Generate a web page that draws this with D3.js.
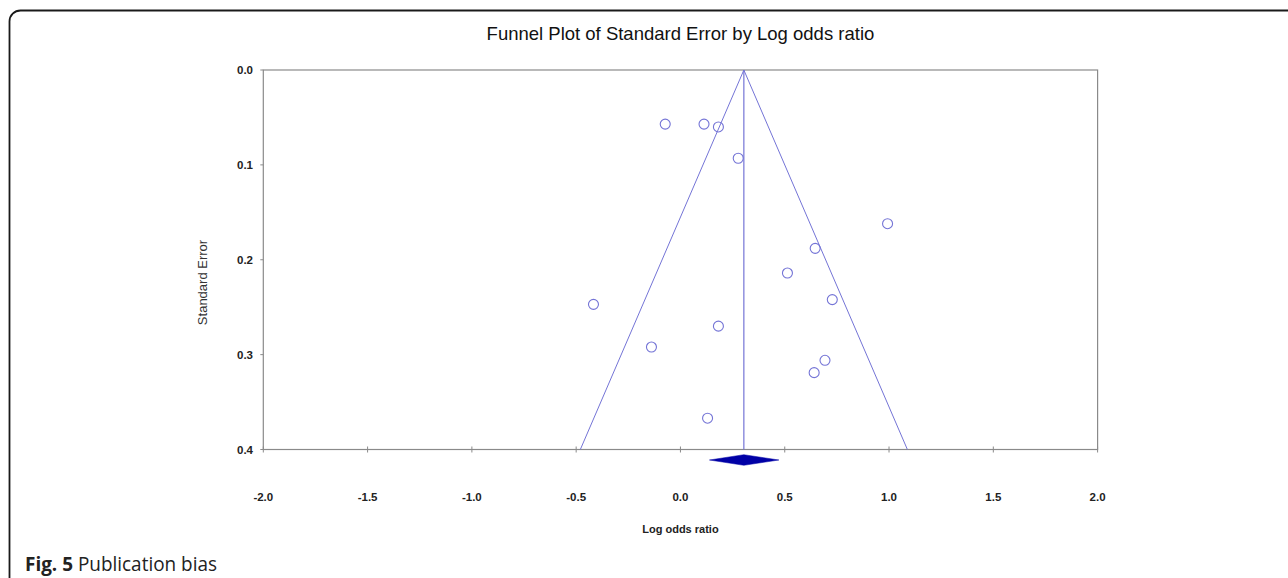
<!DOCTYPE html>
<html>
<head>
<meta charset="utf-8">
<script src="https://cdn.jsdelivr.net/npm/d3@7"></script>
<style>
  html, body { margin: 0; padding: 0; background: #fff; }
  svg { display: block; }
</style>
</head>
<body>
<svg id="chart" width="1288" height="578"></svg>
<script>
// ---- Data ----
const logOddsRatio = [-0.073, 0.113, 0.182, 0.277, 0.993, 0.646, 0.513, 0.728, -0.417, 0.182, -0.139, 0.693, 0.641, 0.130];
const standardError = [0.057, 0.057, 0.060, 0.093, 0.162, 0.188, 0.214, 0.242, 0.247, 0.270, 0.292, 0.306, 0.319, 0.367];
const summaryEstimate = [0.304];          // pooled log odds ratio
const summaryCI = [0.139, 0.472];         // lower, upper
const xTickValues = [-2.0, -1.5, -1.0, -0.5, 0.0, 0.5, 1.0, 1.5, 2.0];
const yTickValues = [0.0, 0.1, 0.2, 0.3, 0.4];
const titleText = "Funnel Plot of Standard Error by Log odds ratio";
const xLabel = "Log odds ratio";
const yLabel = "Standard Error";

(function () {
// ---- Layout ----
const svg = d3.select("#chart");
const pLeft = 263.3, pRight = 1097.6, pTop = 70, pBottom = 449.5;
const x = d3.scaleLinear().domain([-2, 2]).range([pLeft, pRight]);
const y = d3.scaleLinear().domain([0, 0.4]).range([pTop, pBottom]);
const blue = "#7474d6";
const axisGray = "#8a8a8a";
const fontSans = "'Liberation Sans', Arial, sans-serif";
const fmt = d => d.toFixed(1);

// outer rounded frame
svg.append("rect")
  .attr("x", 9.5).attr("y", 10.5)
  .attr("width", 1320).attr("height", 580)
  .attr("rx", 11).attr("ry", 11)
  .attr("fill", "none").attr("stroke", "#1a1a1a").attr("stroke-width", 1.8);

// title
svg.append("text")
  .attr("x", (pLeft + pRight) / 2).attr("y", 39.5)
  .attr("text-anchor", "middle")
  .attr("font-family", fontSans).attr("font-size", 18.5)
  .attr("fill", "#111")
  .text(titleText);

// plot box
svg.append("rect")
  .attr("x", pLeft).attr("y", pTop)
  .attr("width", pRight - pLeft).attr("height", pBottom - pTop)
  .attr("fill", "none").attr("stroke", axisGray).attr("stroke-width", 1.2);

// x axis ticks (crossing the bottom line)
svg.append("g").selectAll("line").data(xTickValues).join("line")
  .attr("x1", d => x(d)).attr("x2", d => x(d))
  .attr("y1", pBottom - 3).attr("y2", pBottom + 3)
  .attr("stroke", axisGray).attr("stroke-width", 1);

// x tick labels
svg.append("g").selectAll("text").data(xTickValues).join("text")
  .attr("x", d => x(d)).attr("y", 501)
  .attr("text-anchor", "middle")
  .attr("font-family", fontSans).attr("font-size", 11.5).attr("font-weight", "bold")
  .attr("fill", "#222")
  .text(fmt);

// y axis ticks
svg.append("g").selectAll("line").data(yTickValues).join("line")
  .attr("x1", pLeft - 3).attr("x2", pLeft)
  .attr("y1", d => y(d)).attr("y2", d => y(d))
  .attr("stroke", axisGray).attr("stroke-width", 1);

// y tick labels
svg.append("g").selectAll("text").data(yTickValues).join("text")
  .attr("x", 253).attr("y", d => y(d) + 4)
  .attr("text-anchor", "end")
  .attr("font-family", fontSans).attr("font-size", 11.5).attr("font-weight", "bold")
  .attr("fill", "#222")
  .text(fmt);

// axis labels
svg.append("text")
  .attr("x", (pLeft + pRight) / 2).attr("y", 533)
  .attr("text-anchor", "middle")
  .attr("font-family", fontSans).attr("font-size", 11).attr("font-weight", "bold")
  .attr("fill", "#222")
  .text(xLabel);

svg.append("text")
  .attr("transform", `translate(206.5, 282.5) rotate(-90)`)
  .attr("text-anchor", "middle")
  .attr("font-family", fontSans).attr("font-size", 13)
  .attr("fill", "#333")
  .text(yLabel);

// funnel
const c = summaryEstimate[0];
const seMax = 0.4;
svg.append("path")
  .attr("d", d3.line()([
    [x(c - 1.96 * seMax), y(seMax)],
    [x(c), y(0)],
    [x(c + 1.96 * seMax), y(seMax)]
  ]))
  .attr("fill", "none").attr("stroke", blue).attr("stroke-width", 1);

svg.append("line")
  .attr("x1", x(c)).attr("x2", x(c))
  .attr("y1", y(0)).attr("y2", y(seMax))
  .attr("stroke", blue).attr("stroke-width", 1.2);

// studies
const pts = logOddsRatio.map((v, i) => ({ lor: v, se: standardError[i] }));
svg.append("g").selectAll("circle").data(pts).join("circle")
  .attr("cx", d => x(d.lor)).attr("cy", d => y(d.se))
  .attr("r", 5)
  .attr("fill", "none").attr("stroke", blue).attr("stroke-width", 1.1);

// summary diamond
const dy = pBottom + 10.5;
svg.append("path")
  .attr("d", d3.line()([
    [x(summaryCI[0]), dy],
    [x(c), dy - 5.3],
    [x(summaryCI[1]), dy],
    [x(c), dy + 5.3]
  ]) + "Z")
  .attr("fill", "#0000a6").attr("stroke", "#0000a6").attr("stroke-width", 0.5);

// caption
const cap = svg.append("text")
  .attr("x", 25).attr("y", 571)
  .attr("font-family", "'Open Sans', 'Noto Sans', sans-serif").attr("font-size", 20)
  .attr("textLength", 192).attr("lengthAdjust", "spacingAndGlyphs")
  .attr("fill", "#222");
cap.append("tspan").attr("font-weight", "bold").text("Fig. 5");
cap.append("tspan").text(" Publication bias");
})();
</script>
</body>
</html>
